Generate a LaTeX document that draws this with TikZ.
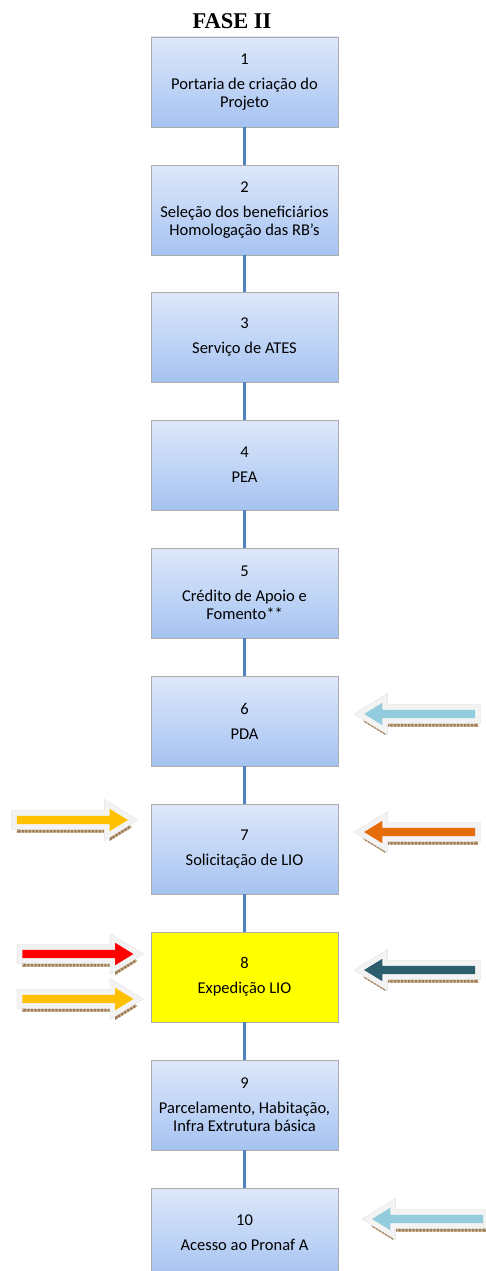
\documentclass[tikz,border=0pt]{standalone}
\usepackage{fontspec}
\setmainfont{Carlito}
\newfontfamily\titlefont{Liberation Serif}
\usetikzlibrary{shapes.arrows,shadows}
\definecolor{boxtop}{HTML}{DDE8FA}
\definecolor{boxbot}{HTML}{A6C3F2}
\definecolor{conn}{HTML}{4F81BD}
\definecolor{arLightBlue}{HTML}{93CDDD}
\definecolor{arOrange}{HTML}{E46C0A}
\definecolor{arTeal}{HTML}{2B5F6E}
\definecolor{arRed}{HTML}{FF0000}
\definecolor{arYellow}{HTML}{FFC000}
\definecolor{shadowtan}{HTML}{D2B990}
\definecolor{shadowbrown}{HTML}{9C7C58}
\definecolor{glowfill}{HTML}{F3F3F3}
\definecolor{glowedge}{HTML}{E2E2E2}
\begin{document}
\begin{tikzpicture}[x=1pt,y=-1pt,
  stepbox/.style={rectangle, minimum width=187pt, minimum height=90pt,
    top color=boxtop, bottom color=boxbot, draw=gray!65, line width=0.8pt,
    align=center, font=\fontsize{16.5}{18}\selectfont, inner sep=0pt},
  yellowbox/.style={stepbox, top color=yellow, bottom color=yellow, fill=yellow},
  link/.style={draw=conn, line width=3pt},
  glowarrow/.style={single arrow, minimum height=111pt, inner sep=4pt,
    single arrow head extend=7pt, single arrow tip angle=63,
    fill=#1, draw=none,
    general shadow={shadow xshift=1.5pt, shadow yshift=-7pt, draw=shadowtan,
      line width=3pt},
    general shadow={shadow xshift=1.5pt, shadow yshift=-7pt, draw=shadowbrown,
      line width=3pt, dash pattern=on 2.2pt off 1.3pt},
    preaction={draw=glowedge, line width=11pt},
    preaction={draw=glowfill, line width=10pt}},
  leftarrow/.style={glowarrow=#1, shape border rotate=180},
  rightarrow/.style={glowarrow=#1}
]
\useasboundingbox (0,0) rectangle (485,1271);

\node[font=\titlefont\bfseries\fontsize{22.5}{24}\selectfont] (title) at (232,21) {FASE II};

\node[stepbox] (b1) at (244.5,82) {1\\[7pt]Portaria de criação do\\Projeto};
\node[stepbox] (b2) at (244.5,210) {2\\[7pt]Seleção dos beneficiários\\Homologação das RB’s};
\node[stepbox] (b3) at (244.5,337) {3\\[7pt]Serviço de ATES};
\node[stepbox] (b4) at (244.5,465) {4\\[7pt]PEA};
\node[stepbox] (b5) at (244.5,593) {5\\[7pt]Crédito de Apoio e\\Fomento**};
\node[stepbox] (b6) at (244.5,721) {6\\[7pt]PDA};
\node[stepbox] (b7) at (244.5,849) {7\\[7pt]Solicitação de LIO};
\node[yellowbox] (b8) at (244.5,977) {8\\[7pt]Expedição LIO};
\node[stepbox] (b9) at (244.5,1105) {9\\[7pt]Parcelamento, Habitação,\\Infra Extrutura básica};
\node[stepbox] (b10) at (244.5,1233) {10\\[7pt]Acesso ao Pronaf A};

\draw[link] (b1.south) -- (b2.north);
\draw[link] (b2.south) -- (b3.north);
\draw[link] (b3.south) -- (b4.north);
\draw[link] (b4.south) -- (b5.north);
\draw[link] (b5.south) -- (b6.north);
\draw[link] (b6.south) -- (b7.north);
\draw[link] (b7.south) -- (b8.north);
\draw[link] (b8.south) -- (b9.north);
\draw[link] (b9.south) -- (b10.north);

\node[leftarrow=arLightBlue] (a6) at (423,714) {};
\node[leftarrow=arOrange] (a7) at (423,832) {};
\node[leftarrow=arTeal] (a8) at (423,970) {};
\node[leftarrow=arLightBlue] (a10) at (431,1219) {};

\node[rightarrow=arYellow] (l7) at (69,820) {};
\node[rightarrow=arRed] (l8a) at (74.5,954) {};
\node[rightarrow=arYellow] (l8b) at (74.5,999) {};
\end{tikzpicture}
\end{document}
